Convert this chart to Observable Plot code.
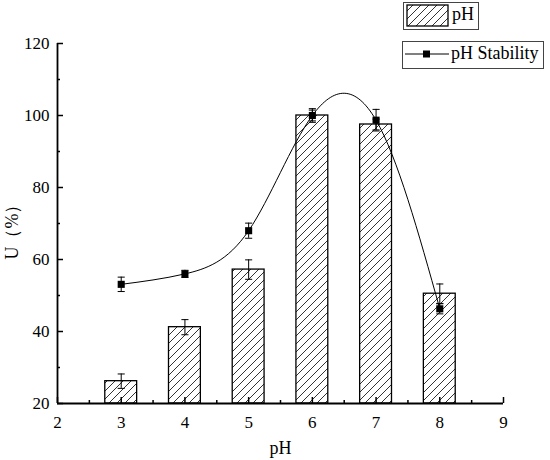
<!DOCTYPE html>
<html><head><meta charset="utf-8">
<script src="https://cdn.jsdelivr.net/npm/d3@7"></script>
<script src="https://cdn.jsdelivr.net/npm/@observablehq/plot@0.6"></script>
<style>
body{margin:0;background:#fff;}
#wrap{position:relative;width:550px;height:460px;font-family:"Liberation Serif","Times New Roman",serif;color:#000;}
.lg{position:absolute;border:1px solid #444;background:#fff;box-sizing:border-box;font-size:18px;}
.lg span{position:absolute;top:1px;white-space:nowrap;}
.lg svg{position:absolute;}
</style></head><body><div id="wrap"></div>
<script>
// data
const phLevels = [3, 4, 5, 6, 7, 8];
const barValues = [26.2, 41.2, 57.2, 100.0, 97.5, 50.5];
const barErrors = [2.0, 2.1, 2.7, 1.5, 1.5, 2.7];
const stabilityValues = [53.1, 56.0, 68.0, 100.0, 98.7, 46.3];
const stabilityErrors = [2.0, 1.0, 2.1, 1.9, 3.0, 1.4];
const xTicks = [2, 3, 4, 5, 6, 7, 8, 9];
const xMinor = [2.5, 3.5, 4.5, 5.5, 6.5, 7.5, 8.5];
const yTicks = [20, 40, 60, 80, 100, 120];
const yMinor = [30, 50, 70, 90, 110];
const seriesNames = ["pH", "pH Stability"];

const bars = phLevels.map((p, i) => ({ph: p, u: barValues[i], e: barErrors[i]}));
const stab = phLevels.map((p, i) => ({ph: p, u: stabilityValues[i], e: stabilityErrors[i]}));

const W = 550, H = 460, mL = 57, mR = 47, mT = 43, mB = 57;
const fw = W - mL - mR, fh = H - mT - mB;
const halfBar = 0.25;

const cap = {draw(ctx, size) { const w = Math.sqrt(size); ctx.moveTo(-w, 0); ctx.lineTo(w, 0); }};

const chart = Plot.plot({
  width: W, height: H,
  marginLeft: mL, marginRight: mR, marginTop: mT, marginBottom: mB,
  style: {fontFamily: '"Liberation Serif","Times New Roman",serif', fontSize: "17px", color: "#000", background: "transparent", overflow: "visible"},
  x: {domain: [2, 9]},
  y: {domain: [20, 120]},
  marks: [
    Plot.rectY(bars, {x1: d => d.ph - halfBar, x2: d => d.ph + halfBar, y1: 20, y2: "u", fill: "url(#hatch)", stroke: "#000", strokeWidth: 1.3}),
    Plot.ruleX(bars, {x: "ph", y1: d => d.u - d.e, y2: d => d.u + d.e, stroke: "#000", strokeWidth: 1}),
    Plot.dot(bars, {x: "ph", y: d => d.u + d.e, symbol: cap, r: 2, stroke: "#000", fill: "none", strokeWidth: 1}),
    Plot.dot(bars, {x: "ph", y: d => d.u - d.e, symbol: cap, r: 2, stroke: "#000", fill: "none", strokeWidth: 1}),
    Plot.line(stab, {x: "ph", y: "u", curve: "natural", stroke: "#000", strokeWidth: 1}),
    Plot.ruleX(stab, {x: "ph", y1: d => d.u - d.e, y2: d => d.u + d.e, stroke: "#000", strokeWidth: 1}),
    Plot.dot(stab, {x: "ph", y: d => d.u + d.e, symbol: cap, r: 2, stroke: "#000", fill: "none", strokeWidth: 1}),
    Plot.dot(stab, {x: "ph", y: d => d.u - d.e, symbol: cap, r: 2, stroke: "#000", fill: "none", strokeWidth: 1}),
    Plot.dot(stab, {x: "ph", y: "u", symbol: "square", r: 4, fill: "#000", stroke: "none"}),
    // axis lines
    Plot.ruleY([20], {stroke: "#000", strokeWidth: 1.8}),
    Plot.ruleX([2], {stroke: "#000", strokeWidth: 1.8}),
    // inward ticks
    Plot.tickY(yTicks, {y: d => d, insetRight: fw - 6, stroke: "#000", strokeWidth: 1.5}),
    Plot.tickY(yMinor, {y: d => d, insetRight: fw - 3, stroke: "#000", strokeWidth: 1.5}),
    Plot.tickX(xTicks, {x: d => d, insetTop: fh - 6, stroke: "#000", strokeWidth: 1.5}),
    Plot.tickX(xMinor, {x: d => d, insetTop: fh - 3, stroke: "#000", strokeWidth: 1.5}),
    Plot.axisX({ticks: xTicks, tickSize: 0, tickPadding: 12, label: null, tickFormat: d => String(d), fontSize: 17}),
    Plot.axisY({ticks: yTicks, tickSize: 0, tickPadding: 8, label: null, tickFormat: d => String(d), fontSize: 17}),
    Plot.text(["pH"], {frameAnchor: "bottom", dy: 45, lineAnchor: "middle", fontSize: 18, fill: "#000"}),
    Plot.text(["U（%）"], {frameAnchor: "left", dx: -45, dy: 4, textAnchor: "middle", lineAnchor: "middle", rotate: -90, fontSize: 18, fill: "#000"})
  ]
});

const svg = d3.select(chart);
const defs = svg.insert("defs", ":first-child");
const pat = defs.append("pattern").attr("id", "hatch").attr("patternUnits", "userSpaceOnUse").attr("width", 8).attr("height", 8);
pat.append("rect").attr("width", 8).attr("height", 8).attr("fill", "#fff");
pat.append("path").attr("d", "M-2,2 L2,-2 M0,8 L8,0 M6,10 L10,6").attr("stroke", "#000").attr("stroke-width", 0.8);

const wrap = document.getElementById("wrap");
wrap.appendChild(chart);

// legend
const lg1 = document.createElement("div");
lg1.className = "lg";
Object.assign(lg1.style, {left: "403px", top: "2px", width: "76px", height: "28px"});
lg1.innerHTML = `<svg width="44" height="24" style="left:2px;top:1px">
<defs><pattern id="hatch2" patternUnits="userSpaceOnUse" width="8" height="8"><rect width="8" height="8" fill="#fff"/><path d="M-2,2 L2,-2 M0,8 L8,0 M6,10 L10,6" stroke="#000" stroke-width="0.8"/></pattern></defs>
<rect x="1" y="1" width="41" height="21" fill="url(#hatch2)" stroke="#000" stroke-width="1.3"/></svg><span style="left:48px">${seriesNames[0]}</span>`;
wrap.appendChild(lg1);

const lg2 = document.createElement("div");
lg2.className = "lg";
Object.assign(lg2.style, {left: "402px", top: "41px", width: "142px", height: "28px"});
lg2.innerHTML = `<svg width="46" height="26" style="left:1px;top:0px"><line x1="1" y1="12" x2="45" y2="12" stroke="#000" stroke-width="1"/><rect x="19" y="8.5" width="7" height="7" fill="#000"/></svg><span style="left:48px">${seriesNames[1]}</span>`;
wrap.appendChild(lg2);
</script>
</body></html>
